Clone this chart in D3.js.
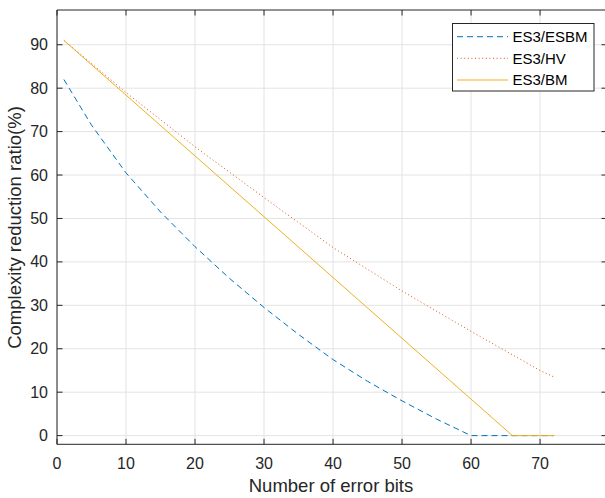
<!DOCTYPE html>
<html>
<head>
<meta charset="utf-8">
<script src="https://cdn.jsdelivr.net/npm/d3@7"></script>
<style>
  html, body { margin: 0; padding: 0; background: #fff; }
  svg { display: block; font-family: "Liberation Sans", Arial, Helvetica, sans-serif; }
</style>
</head>
<body>
<svg id="chart" width="605" height="498"></svg>
<script>
// ---- data ----
const xTicks = [0, 10, 20, 30, 40, 50, 60, 70];
const yTicks = [0, 10, 20, 30, 40, 50, 60, 70, 80, 90];
const seriesNames = ["ES3/ESBM", "ES3/HV", "ES3/BM"];

const esbmX = [1, 5, 10, 15, 20, 25, 30, 35, 40, 45, 50, 55, 60, 66, 72];
const esbmY = [82, 71.5, 60.5, 51.5, 43.5, 36.2, 29.5, 23.3, 17.5, 12.5, 8, 3.8, 0, 0, 0];

const hvX = [1, 10, 20, 30, 40, 50, 60, 70, 72];
const hvY = [91, 79, 66.5, 54.8, 43.3, 33.3, 24, 15, 13.5];

const bmX = [1, 66, 72];
const bmY = [91, 0, 0];

(function () {
// ---- layout ----
const svg = d3.select("#chart");
const pL = 57, pR = 607, pT = 10, pB = 444.3;
const x = d3.scaleLinear().domain([0, 79.7]).range([pL, pR]);
const y = d3.scaleLinear().domain([-2, 98]).range([pB, pT]);
const axisColor = "#262626";
const gridColor = "#e3e3e3";

// grid
svg.append("g").selectAll("line").data(xTicks).join("line")
  .attr("x1", d => x(d)).attr("x2", d => x(d))
  .attr("y1", pT).attr("y2", pB)
  .attr("stroke", gridColor).attr("stroke-width", 1);
svg.append("g").selectAll("line").data(yTicks).join("line")
  .attr("x1", pL).attr("x2", pR)
  .attr("y1", d => y(d)).attr("y2", d => y(d))
  .attr("stroke", gridColor).attr("stroke-width", 1);

// series
const line = d3.line().x(d => x(d[0])).y(d => y(d[1]));
const styles = [
  { color: "#0072BD", dash: "6,4" },
  { color: "#D95319", dash: "1,2.6" },
  { color: "#EDB120", dash: null }
];
const data = [
  d3.zip(esbmX, esbmY),
  d3.zip(hvX, hvY),
  d3.zip(bmX, bmY)
];
data.forEach((pts, i) => {
  svg.append("path")
    .attr("d", line(pts))
    .attr("fill", "none")
    .attr("stroke", styles[i].color)
    .attr("stroke-width", 1)
    .attr("stroke-dasharray", styles[i].dash);
});

// axes box
const axG = svg.append("g").attr("stroke", axisColor).attr("stroke-width", 1);
axG.append("line").attr("x1", pL).attr("x2", pR).attr("y1", pT).attr("y2", pT);
axG.append("line").attr("x1", pL).attr("x2", pR).attr("y1", pB).attr("y2", pB);
axG.append("line").attr("x1", pL).attr("x2", pL).attr("y1", pT).attr("y2", pB);
axG.append("line").attr("x1", pR).attr("x2", pR).attr("y1", pT).attr("y2", pB);

const tl = 5.5;
xTicks.forEach(t => {
  axG.append("line").attr("x1", x(t)).attr("x2", x(t)).attr("y1", pB).attr("y2", pB - tl);
  axG.append("line").attr("x1", x(t)).attr("x2", x(t)).attr("y1", pT).attr("y2", pT + tl);
});
yTicks.forEach(t => {
  axG.append("line").attr("x1", pL).attr("x2", pL + tl).attr("y1", y(t)).attr("y2", y(t));
  axG.append("line").attr("x1", pR).attr("x2", pR - tl).attr("y1", y(t)).attr("y2", y(t));
});

// tick labels
svg.append("g").selectAll("text").data(xTicks).join("text")
  .attr("x", d => x(d)).attr("y", 469)
  .attr("text-anchor", "middle").attr("font-size", 16).attr("fill", axisColor)
  .text(d => d);
svg.append("g").selectAll("text").data(yTicks).join("text")
  .attr("x", 48).attr("y", d => y(d)).attr("dy", "0.35em")
  .attr("text-anchor", "end").attr("font-size", 16).attr("fill", axisColor)
  .text(d => d);

// axis labels
svg.append("text").attr("x", 331).attr("y", 492)
  .attr("text-anchor", "middle").attr("font-size", 18.5).attr("fill", axisColor)
  .text("Number of error bits");
svg.append("text")
  .attr("transform", `translate(21, 227.5) rotate(-90)`)
  .attr("text-anchor", "middle").attr("font-size", 18.5).attr("fill", axisColor)
  .text("Complexity reduction ratio(%)");

// legend
const lg = svg.append("g");
lg.append("rect").attr("x", 452.5).attr("y", 23.5).attr("width", 141.5).attr("height", 67.5)
  .attr("fill", "#fff").attr("stroke", axisColor).attr("stroke-width", 1);
const rowY = [36.7, 58.3, 80];
seriesNames.forEach((name, i) => {
  lg.append("line").attr("x1", 457).attr("x2", 508).attr("y1", rowY[i]).attr("y2", rowY[i])
    .attr("stroke", styles[i].color).attr("stroke-width", 1)
    .attr("stroke-dasharray", styles[i].dash);
  lg.append("text").attr("x", 512.5).attr("y", rowY[i]).attr("dy", "0.35em")
    .attr("font-size", 15).attr("fill", "#000").text(name);
});
})();
</script>
</body>
</html>
